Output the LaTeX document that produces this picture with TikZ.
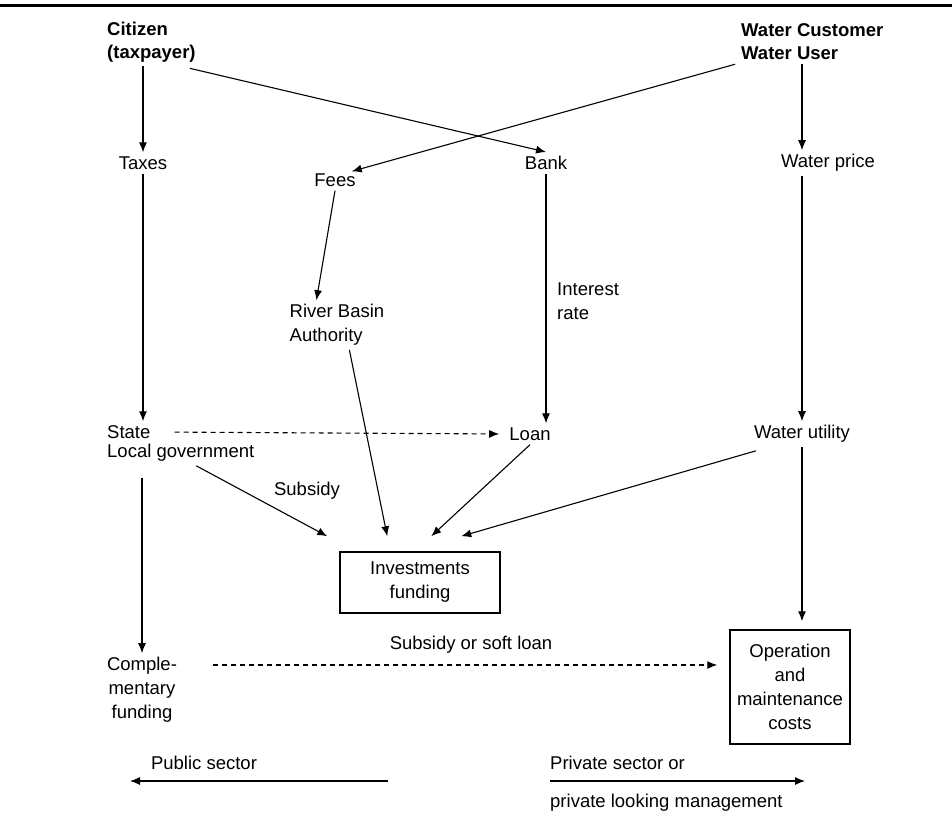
\documentclass[tikz,border=0pt]{standalone}
\usepackage{fontspec}
\setmainfont{Liberation Sans}
\usetikzlibrary{arrows.meta,calc}
\begin{document}
\begin{tikzpicture}[x=1pt,y=-1pt,
  txt/.style={inner sep=4pt,font=\fontsize{18.5}{24}\selectfont},
  bold/.style={txt,font=\fontsize{18.5}{23}\selectfont\bfseries,align=left,anchor=west},
  boxnode/.style={txt,draw,line width=1.5pt,align=center},
  arr/.style={line width=1.1pt,-{Latex[length=10pt,width=8pt]}},
  darr/.style={arr,dashed,dash pattern=on 5pt off 4pt}]
\useasboundingbox (0,0) rectangle (952,819);
\draw[line width=3pt] (0,5) -- (952,5);
% nodes
\node[bold] (cit) at (103,42) {Citizen\\(taxpayer)};
\node[bold] (wc) at (737,42) {Water Customer\\Water User};
\node[txt] (taxes) at (143,163) {Taxes};
\node[txt] (fees) at (335,180) {Fees};
\node[txt] (bank) at (546,163) {Bank};
\node[txt] (wprice) at (828,163) {Water price};
\node[txt,align=left] (rba) at (337,325) {River Basin\\Authority};
\node[txt,align=left,anchor=west] (interest) at (553,301) {Interest\\rate};
\node[txt,anchor=west] (st) at (103,432) {State};
\node[txt,anchor=west] (lg) at (103,453) {Local government};
\node[txt] (loan) at (530,434) {Loan};
\node[txt] (wutil) at (802,434) {Water utility};
\node[txt] (subs) at (307,491) {Subsidy};
\node[boxnode,minimum width=160pt,minimum height=61pt] (inv) at (420,582.5) {Investments\\funding};
\node[txt,align=center] (comp) at (142,690) {Comple-\\mentary\\funding};
\node[txt] (sosl) at (471,645) {Subsidy or soft loan};
\node[boxnode,minimum width=120pt,minimum height=114pt] (om) at (790,687) {Operation\\and\\maintenance\\costs};
\node[txt] (public) at (204,763) {Public sector};
\node[txt,anchor=west] (private) at (546,763) {Private sector or};
\node[txt,anchor=west] (plm) at (546,803) {private looking management};
% coordinates above investments box
\coordinate (t1) at ($(inv.north west)+(-12,-15)$);
\coordinate (t2) at ($(inv.north west)+(48,-15)$);
\coordinate (t3) at ($(inv.north west)+(92,-15)$);
\coordinate (t4) at ($(inv.north west)+(122,-15)$);
\coordinate (dsA) at (213,665);
\coordinate (pa) at (388,781);
\coordinate (pb) at (130,781);
\coordinate (qa) at (550,781);
\coordinate (qb) at (805,781);
% connectors
\draw[arr] (cit.south -| taxes) -- (taxes.north);
\draw[arr] ($(cit.south east)+(-10,2)$) -- (bank.north);
\draw[arr] ($(wc.south west)+(-2,0)$) -- ($(fees.north east)+(-8,2)$);
\draw[arr] (wc.south -| wutil) -- (wprice.north -| wutil);
\draw[arr] (fees.south) -- ($(rba.north west)!0.3!(rba.north east)$);
\draw[arr] (bank.south) -- (bank.south |- loan.north);
\draw[arr] (wprice.south -| wutil) -- (wutil.north);
\draw[arr] (taxes.south) -- (taxes.south |- st.north);
\draw[darr,shorten <=20pt,shorten >=6pt] (st.east) -- (loan.west);
\draw[arr] ($(rba.south west)!0.62!(rba.south east)$) -- (t2);
\draw[arr] ($(lg.south west)!0.6!(lg.south east)$) -- (t1);
\draw[arr] (loan.south) -- (t3);
\draw[arr] ($(wutil.south west)+(6,4)$) -- (t4);
\draw[arr,shorten <=12pt] (lg.south -| comp.north) -- (comp.north);
\draw[arr,shorten >=8pt] (wutil.south) -- (wutil.south |- om.north);
\draw[darr,shorten >=12pt] (dsA) -- (dsA -| om.west);
\draw[arr] (pa) -- (pb);
\draw[arr] (qa) -- (qb);
\end{tikzpicture}
\end{document}
